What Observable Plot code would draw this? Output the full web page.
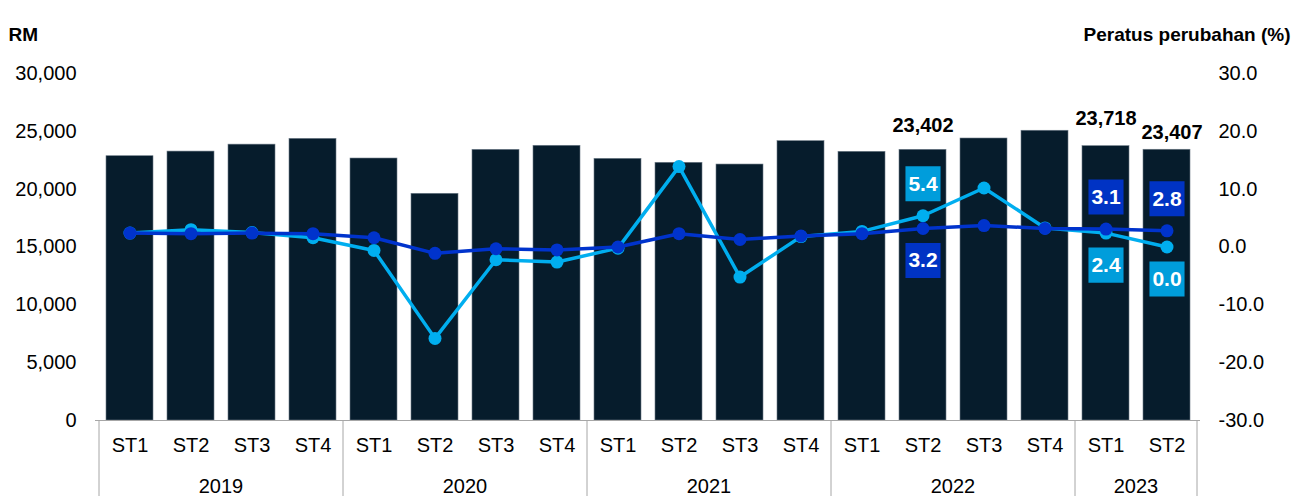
<!DOCTYPE html>
<html>
<head>
<meta charset="utf-8">
<script src="https://cdn.jsdelivr.net/npm/d3@7"></script>
<script src="https://cdn.jsdelivr.net/npm/@observablehq/plot@0.6"></script>
<style>
  html, body { margin: 0; padding: 0; background: #fff; }
  #chart { width: 1302px; height: 496px; }
</style>
</head>
<body>
<div id="chart"></div>
<script>
// ---- data ----
const years = ["2019","2019","2019","2019","2020","2020","2020","2020","2021","2021","2021","2021","2022","2022","2022","2022","2023","2023"];
const quarters = ["ST1","ST2","ST3","ST4","ST1","ST2","ST3","ST4","ST1","ST2","ST3","ST4","ST1","ST2","ST3","ST4","ST1","ST2"];
const income = [22850, 23250, 23850, 24350, 22650, 19600, 23400, 23750, 22620, 22280, 22130, 24150, 23230, 23402, 24380, 25050, 23718, 23407];
const changeLight = [2.4, 3.0, 2.5, 1.6, -0.6, -15.8, -2.2, -2.6, -0.2, 13.9, -5.2, 1.8, 2.7, 5.4, 10.2, 3.3, 2.4, 0.0];
const changeDark  = [2.4, 2.3, 2.4, 2.3, 1.6, -1.1, -0.3, -0.5, 0.0, 2.3, 1.3, 1.9, 2.3, 3.2, 3.7, 3.2, 3.1, 2.8];
const leftTicks = [0, 5000, 10000, 15000, 20000, 25000, 30000];
const rightTicks = [-30, -20, -10, 0, 10, 20, 30];
const barLabelIdx = [13, 16, 17];
const lightLabelIdx = [13, 16, 17];
const darkLabelIdx = [13, 16, 17];
const lightLabelAbove = [true, false, false];
const darkLabelAbove = [false, true, true];

// ---- derived ----
const cats = years.map((y, i) => y + " " + quarters[i]);
const pctToY = p => (p + 30) * 500; // right axis -30..30 mapped onto 0..30000
const rows = cats.map((c, i) => ({key: c, year: years[i], q: quarters[i], v: income[i], light: changeLight[i], dark: changeDark[i]}));
const yearList = [...new Set(years)];

const barLabelDx = [0, 0, 5], barLabelDy = [-24, -28, -17];
const barLabels = barLabelIdx.map((i, k) => ({key: cats[i], v: income[i], dx: barLabelDx[k], dy: barLabelDy[k]}));
const lightBoxes = lightLabelIdx.map((i, k) => ({key: cats[i], y: pctToY(changeLight[i]), t: changeLight[i].toFixed(1), up: lightLabelAbove[k]}));
const darkBoxes = darkLabelIdx.map((i, k) => ({key: cats[i], y: pctToY(changeDark[i]), t: changeDark[i].toFixed(1), up: darkLabelAbove[k]}));

const BAR = "#061c2c", LIGHT = "#00aeef", DARK = "#0033cc", LIGHTBOX = "#009ddb", DARKBOX = "#0033c4";
const FONT = "'Liberation Sans', Arial, sans-serif";

function boxMarks(data, color) {
  const out = [];
  for (const up of [true, false]) {
    const d = data.filter(b => b.up === up);
    const dy = up ? -32 : 32;
    out.push(Plot.dot(d, {x: "key", y: "y", symbol: "square", r: 19.8, fill: color, stroke: "none", dy}));
    out.push(Plot.text(d, {x: "key", y: "y", text: "t", fill: "white", fontWeight: "bold", fontSize: 21, dy}));
  }
  return out;
}

// custom mark: year separators and year labels beneath the axis
function yearGroups(index, scales, values, dimensions) {
  const x = scales.x;
  const step = x(cats[1]) - x(cats[0]);
  const bw = step * (1 - 0.23);
  const g = d3.create("svg:g").attr("font-family", FONT).attr("font-size", 20);
  const yTop = dimensions.height - dimensions.marginBottom;
  const edges = [];
  yearList.forEach(yr => {
    const idx = cats.map((c, i) => i).filter(i => years[i] === yr);
    const x0 = x(cats[idx[0]]) - (step - bw) / 2;
    const x1 = x(cats[idx[idx.length - 1]]) + bw + (step - bw) / 2;
    edges.push(x0, x1);
    g.append("text").attr("x", (x0 + x1) / 2).attr("y", yTop + 73).attr("text-anchor", "middle").attr("fill", "#000").text(yr);
  });
  [...new Set(edges.map(e => Math.round(e * 10) / 10))].forEach(e => {
    g.append("line").attr("x1", e).attr("x2", e).attr("y1", yTop).attr("y2", dimensions.height).attr("stroke", "#a6a6a6").attr("stroke-width", 1);
  });
  return g.node();
}

const chart = Plot.plot({
  width: 1302,
  height: 496,
  marginTop: 73,
  marginBottom: 76,
  marginLeft: 95,
  marginRight: 102,
  style: {fontFamily: FONT, fontSize: "20px", color: "#000", background: "#fff", overflow: "visible"},
  x: {type: "band", domain: cats, paddingInner: 0.23, paddingOuter: 0.115, axis: null},
  y: {domain: [0, 30000], axis: null},
  marks: [
    Plot.barY(rows, {x: "key", y: "v", fill: BAR, stroke: "#6d7b87", strokeWidth: 0.6}),
    Plot.axisY({anchor: "left", ticks: leftTicks, tickSize: 0, tickPadding: 19, tickFormat: d3.format(","), fontSize: 20, fill: "#000"}),
    Plot.axisY({anchor: "right", ticks: rightTicks.map(pctToY), tickSize: 0, tickPadding: 18, tickFormat: d => (d / 500 - 30).toFixed(1), fontSize: 20, fill: "#000"}),
    Plot.ruleY([0], {stroke: "#a6a6a6", strokeWidth: 1}),
    Plot.text(rows, {x: "key", text: "q", frameAnchor: "bottom", dy: 31, fontSize: 20, fill: "#000"}),
    yearGroups,
    Plot.line(rows, {x: "key", y: d => pctToY(d.light), stroke: LIGHT, strokeWidth: 3.5}),
    Plot.dot(rows, {x: "key", y: d => pctToY(d.light), r: 6.5, fill: LIGHT, stroke: "none"}),
    Plot.line(rows, {x: "key", y: d => pctToY(d.dark), stroke: DARK, strokeWidth: 3.5}),
    Plot.dot(rows, {x: "key", y: d => pctToY(d.dark), r: 6.5, fill: DARK, stroke: "none"}),
    ...boxMarks(lightBoxes, LIGHTBOX),
    ...boxMarks(darkBoxes, DARKBOX),
    ...barLabels.map(b => Plot.text([b], {x: "key", y: "v", text: d => d3.format(",")(d.v), dx: b.dx, dy: b.dy, fontWeight: "bold", fontSize: 20, fill: "#000"})),
    Plot.text(["RM"], {text: d => d, frameAnchor: "top-left", dx: -87, dy: -46, textAnchor: "start", fontWeight: "bold", fontSize: 19, fill: "#000"}),
    Plot.text(["Peratus perubahan (%)"], {text: d => d, frameAnchor: "top-right", dx: 90, dy: -46, textAnchor: "end", fontWeight: "bold", fontSize: 19, fill: "#000"})
  ]
});
document.getElementById("chart").appendChild(chart);
</script>
</body>
</html>
